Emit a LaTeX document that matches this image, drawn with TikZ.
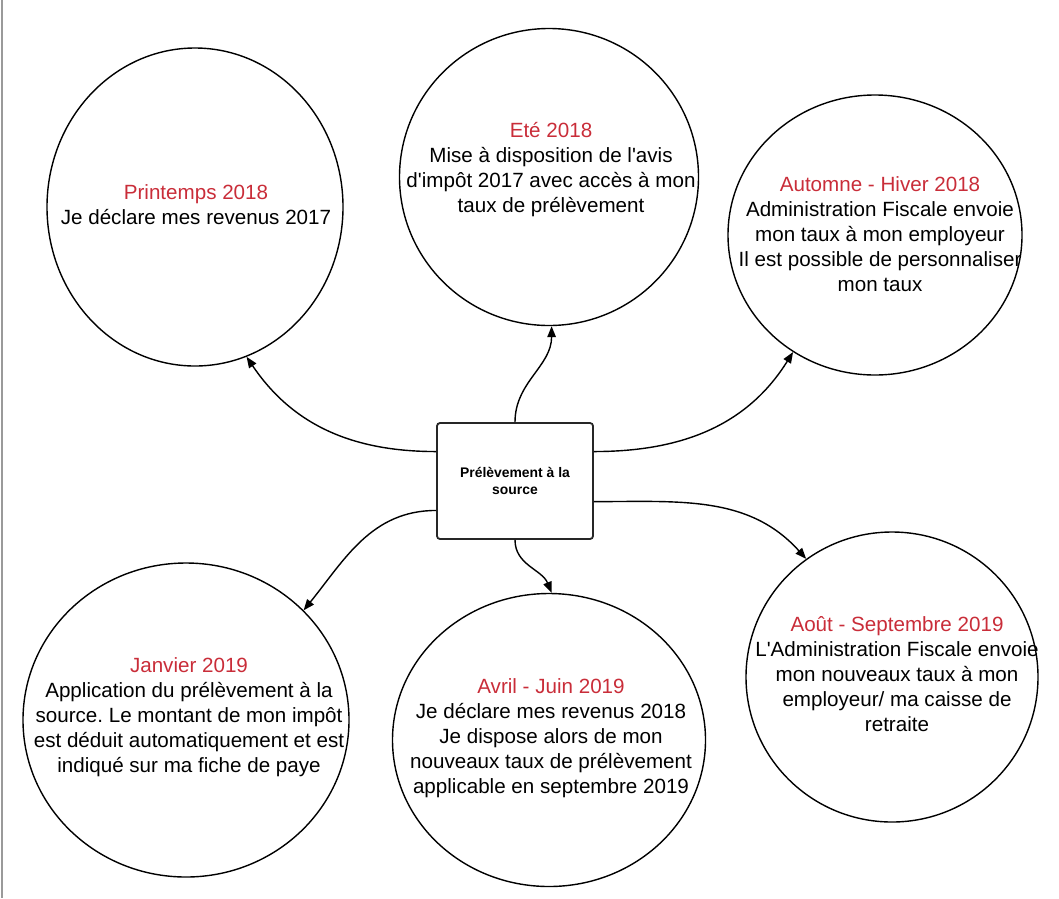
\documentclass[tikz,border=0pt]{standalone}
\usepackage{fontspec}
\setmainfont{Liberation Sans}
\usetikzlibrary{shapes.geometric,arrows.meta,calc}
\definecolor{tred}{HTML}{C92D39}
\definecolor{edgegray}{HTML}{9A9A9A}
\newcommand{\sq}{\textquotesingle}
\frenchspacing
\begin{document}
\begin{tikzpicture}[x=1pt,y=-1pt,
  bubble/.style={draw=black, line width=1.4pt, ellipse, inner sep=0pt},
  btext/.style={align=center, font=\fontsize{20.6}{25}\selectfont, inner sep=0pt},
  conn/.style={line width=1.4pt, -{Triangle[length=11pt,width=8.5pt]}},
  hubbox/.style={draw=black!85, line width=1.8pt, rounded corners=3pt, minimum width=156pt, minimum height=116pt, inner sep=0pt, align=center, font=\fontsize{13.9}{16.5}\selectfont\bfseries}]
\useasboundingbox (0,0) rectangle (1059,898);
\draw[line width=2pt, edgegray] (1.5,0) -- (1.5,898);

% central box
\node[hubbox] (hub) at (515,481) {Prélèvement à la\\source};

% bubbles
\node[bubble, minimum width=296pt, minimum height=318pt] (c1) at (195,207) {};
\node[bubble, minimum width=299pt, minimum height=297pt] (c2) at (549,177) {};
\node[bubble, minimum width=294pt, minimum height=280pt] (c3) at (875,235) {};
\node[bubble, minimum width=326pt, minimum height=314pt] (c4) at (186,720) {};
\node[bubble, minimum width=313pt, minimum height=293pt] (c5) at (549,740) {};
\node[bubble, minimum width=292pt, minimum height=290pt] (c6) at (892,677) {};

% texts
\node[btext] (t1) at (196,205) {\textcolor{tred}{Printemps 2018}\\Je déclare mes revenus 2017};
\node[btext] (t2) at (551,170) {\textcolor{tred}{Eté 2018}\\Mise à disposition de l\sq avis\\d\sq impôt 2017 avec accès à mon\\taux de prélèvement};
\node[btext] (t3) at (880,234) {\textcolor{tred}{Automne - Hiver 2018}\\Administration Fiscale envoie\\mon taux à mon employeur\\Il est possible de personnaliser\\mon taux};
\node[btext] (t4) at (189,717) {\textcolor{tred}{Janvier 2019}\\Application du prélèvement à la\\source. Le montant de mon impôt\\est déduit automatiquement et est\\indiqué sur ma fiche de paye};
\node[btext] (t5) at (551,738) {\textcolor{tred}{Avril - Juin 2019}\\Je déclare mes revenus 2018\\Je dispose alors de mon\\nouveaux taux de prélèvement\\applicable en septembre 2019};
\node[btext] (t6) at (897,674) {\textcolor{tred}{Août - Septembre 2019}\\L\sq Administration Fiscale envoie\\mon nouveaux taux à mon\\employeur/ ma caisse de\\retraite};

% connectors
\draw[conn] ($(hub.west)!0.5!(hub.north west)$) to[out=180,in=-56] (c1.-71);
\draw[conn] (hub.north) to[out=90,in=-90] (c2.-89);
\draw[conn] ($(hub.east)!0.5!(hub.north east)$) to[out=0,in=-122] (c3.-125);
\draw[conn] ($(hub.west)!0.5!(hub.south west)$) to[out=180,in=51] (c4.43.5);
\draw[conn] (hub.south) to[out=-90,in=112] (c5.89);
\draw[conn] ($(hub.east)!0.35!(hub.south east)$) to[out=0,in=132] (c6.126);
\end{tikzpicture}
\end{document}
